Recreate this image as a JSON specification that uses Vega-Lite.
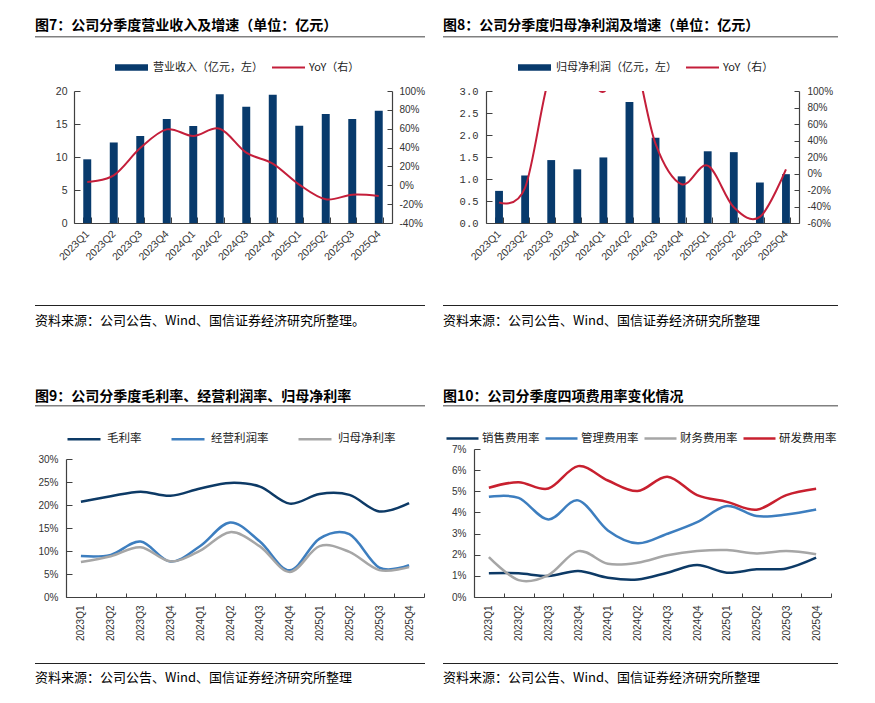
{
  "$schema": "https://vega.github.io/schema/vega-lite/v6.json",
  "background": "white",
  "padding": {"left": 35, "top": 18, "right": 5, "bottom": 5},
  "spacing": 61,
  "config": {
    "view": {"stroke": null},
    "axis": {"grid": false, "labelFont": "Liberation Sans", "labelFontSize": 10, "labelColor": "#333333", "domainColor": "#404040", "tickColor": "#404040", "domainWidth": 1.2, "tickWidth": 1},
    "legend": {"labelFont": "Noto Sans CJK SC", "labelFontSize": 11, "labelColor": "#222222"},
    "title": {"font": "Noto Sans CJK SC", "color": "#000000"}
  },
  "resolve": {"scale": {"color": "independent", "fill": "independent", "stroke": "independent"}},
  "vconcat": [
    {
      "hconcat": [
        {
          "vconcat": [
            {
              "width": 390, "height": 1.5,
              "data": {"values": [{"t": ""}]},
              "mark": {"type": "text"},
              "encoding": {"text": {"field": "t"}},
              "view": {"fill": "#808080", "stroke": null},
              "title": {"text": "图7：公司分季度营业收入及增速（单位：亿元）", "anchor": "start", "offset": -2, "fontSize": 14, "fontWeight": "bold"}
            },
            {
              "vconcat": [
                {
                  "hconcat": [
                    {"width": 1, "height": 1, "data": {"values": [{"t": ""}]}, "mark": {"type": "text"}, "encoding": {"text": {"field": "t"}}},
                    {
                      "width": 318, "height": 132,
                      "data": {"values": [
                        {"q": "2023Q1", "rev": 9.65, "yoy": 3.5},
                        {"q": "2023Q2", "rev": 12.2, "yoy": 10.6},
                        {"q": "2023Q3", "rev": 13.2, "yoy": 39.5},
                        {"q": "2023Q4", "rev": 15.75, "yoy": 59.3},
                        {"q": "2024Q1", "rev": 14.7, "yoy": 52.3},
                        {"q": "2024Q2", "rev": 19.5, "yoy": 60},
                        {"q": "2024Q3", "rev": 17.6, "yoy": 34.6},
                        {"q": "2024Q4", "rev": 19.45, "yoy": 23},
                        {"q": "2025Q1", "rev": 14.75, "yoy": 0.7},
                        {"q": "2025Q2", "rev": 16.5, "yoy": -14.9},
                        {"q": "2025Q3", "rev": 15.75, "yoy": -10},
                        {"q": "2025Q4", "rev": 17.0, "yoy": -11.4}
                      ]},
                      "layer": [
                        {
                          "mark": {"type": "bar"},
                          "encoding": {
                            "x": {"field": "q", "type": "ordinal", "title": null, "scale": {"paddingInner": 0.7, "paddingOuter": 0.35},
                                  "axis": {"labelAngle": -45, "labelAlign": "right", "labelBaseline": "middle", "tickBand": "extent", "tickSize": -6, "labelPadding": 15, "labelOverlap": false, "labelFontSize": 10.5}},
                            "y": {"field": "rev", "type": "quantitative", "scale": {"domain": [0, 20]},
                                  "axis": {"values": [0, 5, 10, 15, 20], "tickSize": -6, "labelPadding": 13, "labelFontSize": 10.5, "title": ".", "titleOpacity": 0, "titleX": -38, "titleY": 0, "titleAngle": 0, "titleAlign": "left", "titleBaseline": "top", "titleFontSize": 4}},
                            "fill": {"datum": "营业收入（亿元，左）", "scale": {"range": ["#083a6c"]},
                                     "legend": {"title": null, "orient": "none", "legendX": 40, "legendY": -41, "symbolType": "M-1,-0.2H1V0.2H-1Z", "symbolSize": 1089, "labelOffset": 4}}
                          }
                        },
                        {
                          "mark": {"type": "line", "interpolate": "cardinal", "strokeWidth": 2, "clip": true},
                          "encoding": {
                            "x": {"field": "q", "type": "ordinal"},
                            "y": {"field": "yoy", "type": "quantitative", "scale": {"domain": [-40, 100]},
                                  "axis": {"orient": "right", "values": [-40, -20, 0, 20, 40, 60, 80, 100], "labelExpr": "datum.value + '%'", "tickSize": -5, "labelPadding": 12, "title": null}},
                            "stroke": {"datum": "YoY（右）", "scale": {"range": ["#c41e3a"]},
                                       "legend": {"title": null, "orient": "none", "legendX": 197, "legendY": -41, "symbolType": "stroke", "symbolSize": 1089, "symbolStrokeWidth": 2, "labelOffset": 3}}
                          }
                        }
                      ],
                      "resolve": {"scale": {"y": "independent"}}
                    }
                  ],
                  "spacing": 0,
                  "resolve": {"scale": {"color": "independent", "fill": "independent", "stroke": "independent"}}
                },
                {
                  "width": 390, "height": 1,
                  "data": {"values": [{"t": ""}]},
                  "mark": {"type": "text"},
                  "encoding": {"text": {"field": "t"}},
                  "view": {"fill": "#222222", "stroke": null},
                  "title": {"text": "资料来源：公司公告、Wind、国信证券经济研究所整理。", "orient": "bottom", "anchor": "start", "offset": 4, "fontSize": 13, "fontWeight": "normal"}
                }
              ],
              "spacing": 36,
              "resolve": {"scale": {"color": "independent", "fill": "independent", "stroke": "independent"}}
            }
          ],
          "spacing": 8,
          "resolve": {"scale": {"color": "independent", "fill": "independent", "stroke": "independent"}}
        },
        {
          "vconcat": [
            {
              "width": 395, "height": 1.5,
              "data": {"values": [{"t": ""}]},
              "mark": {"type": "text"},
              "encoding": {"text": {"field": "t"}},
              "view": {"fill": "#808080", "stroke": null},
              "title": {"text": "图8：公司分季度归母净利润及增速（单位：亿元）", "anchor": "start", "offset": -2, "fontSize": 14, "fontWeight": "bold"}
            },
            {
              "vconcat": [
                {
                  "hconcat": [
                    {"width": 1, "height": 1, "data": {"values": [{"t": ""}]}, "mark": {"type": "text"}, "encoding": {"text": {"field": "t"}}},
                    {
                      "width": 313, "height": 132,
                      "data": {"values": [
                        {"q": "2023Q1", "np": 0.73, "yoy": -35},
                        {"q": "2023Q2", "np": 1.08, "yoy": -17},
                        {"q": "2023Q3", "np": 1.43, "yoy": 125},
                        {"q": "2023Q4", "np": 1.22, "yoy": 140},
                        {"q": "2024Q1", "np": 1.49, "yoy": 99},
                        {"q": "2024Q2", "np": 2.75, "yoy": 155},
                        {"q": "2024Q3", "np": 1.94, "yoy": 36},
                        {"q": "2024Q4", "np": 1.06, "yoy": -13},
                        {"q": "2025Q1", "np": 1.63, "yoy": 9.5},
                        {"q": "2025Q2", "np": 1.61, "yoy": -41},
                        {"q": "2025Q3", "np": 0.92, "yoy": -52.6},
                        {"q": "2025Q4", "np": 1.11, "yoy": 5}
                      ]},
                      "layer": [
                        {
                          "mark": {"type": "bar"},
                          "encoding": {
                            "x": {"field": "q", "type": "ordinal", "title": null, "scale": {"paddingInner": 0.7, "paddingOuter": 0.35},
                                  "axis": {"labelAngle": -45, "labelAlign": "right", "labelBaseline": "middle", "tickBand": "extent", "tickSize": -6, "labelPadding": 15, "labelOverlap": false, "labelFontSize": 10.5}},
                            "y": {"field": "np", "type": "quantitative", "scale": {"domain": [0, 3]},
                                  "axis": {"values": [0, 0.5, 1, 1.5, 2, 2.5, 3], "format": ".1f", "labelFont": "Liberation Mono", "labelFontSize": 10.5, "tickSize": -6, "labelPadding": 14, "title": ".", "titleOpacity": 0, "titleX": -42, "titleY": 0, "titleAngle": 0, "titleAlign": "left", "titleBaseline": "top", "titleFontSize": 4}},
                            "fill": {"datum": "归母净利润（亿元，左）", "scale": {"range": ["#083a6c"]},
                                     "legend": {"title": null, "orient": "none", "legendX": 31, "legendY": -41, "symbolType": "M-1,-0.2H1V0.2H-1Z", "symbolSize": 1089, "labelOffset": 4}}
                          }
                        },
                        {
                          "mark": {"type": "line", "interpolate": "cardinal", "strokeWidth": 2, "clip": true},
                          "encoding": {
                            "x": {"field": "q", "type": "ordinal"},
                            "y": {"field": "yoy", "type": "quantitative", "scale": {"domain": [-60, 100]},
                                  "axis": {"orient": "right", "values": [-60, -40, -20, 0, 20, 40, 60, 80, 100], "labelExpr": "datum.value + '%'", "tickSize": -5, "labelPadding": 13, "title": null}},
                            "stroke": {"datum": "YoY（右）", "scale": {"range": ["#c41e3a"]},
                                       "legend": {"title": null, "orient": "none", "legendX": 199, "legendY": -41, "symbolType": "stroke", "symbolSize": 1089, "symbolStrokeWidth": 2, "labelOffset": 3}}
                          }
                        }
                      ],
                      "resolve": {"scale": {"y": "independent"}}
                    }
                  ],
                  "spacing": 0,
                  "resolve": {"scale": {"color": "independent", "fill": "independent", "stroke": "independent"}}
                },
                {
                  "width": 395, "height": 1,
                  "data": {"values": [{"t": ""}]},
                  "mark": {"type": "text"},
                  "encoding": {"text": {"field": "t"}},
                  "view": {"fill": "#222222", "stroke": null},
                  "title": {"text": "资料来源：公司公告、Wind、国信证券经济研究所整理", "orient": "bottom", "anchor": "start", "offset": 4, "fontSize": 13, "fontWeight": "normal"}
                }
              ],
              "spacing": 36,
              "resolve": {"scale": {"color": "independent", "fill": "independent", "stroke": "independent"}}
            }
          ],
          "spacing": 8,
          "resolve": {"scale": {"color": "independent", "fill": "independent", "stroke": "independent"}}
        }
      ],
      "spacing": 18,
      "resolve": {"scale": {"color": "independent", "fill": "independent", "stroke": "independent"}}
    },
    {
      "hconcat": [
        {
          "vconcat": [
            {
              "width": 390, "height": 1.5,
              "data": {"values": [{"t": ""}]},
              "mark": {"type": "text"},
              "encoding": {"text": {"field": "t"}},
              "view": {"fill": "#808080", "stroke": null},
              "title": {"text": "图9：公司分季度毛利率、经营利润率、归母净利率", "anchor": "start", "offset": -4, "fontSize": 14, "fontWeight": "bold"}
            },
            {
              "vconcat": [
                {
                  "hconcat": [
                    {"width": 1, "height": 1, "data": {"values": [{"t": ""}]}, "mark": {"type": "text"}, "encoding": {"text": {"field": "t"}}},
                    {
                      "width": 358, "height": 138,
                      "data": {"values": [
                        {"q": "2023Q1", "s": "毛利率", "v": 20.7}, {"q": "2023Q1", "s": "经营利润率", "v": 8.9}, {"q": "2023Q1", "s": "归母净利率", "v": 7.6},
                        {"q": "2023Q2", "s": "毛利率", "v": 21.9}, {"q": "2023Q2", "s": "经营利润率", "v": 9.15}, {"q": "2023Q2", "s": "归母净利率", "v": 8.85},
                        {"q": "2023Q3", "s": "毛利率", "v": 22.9}, {"q": "2023Q3", "s": "经营利润率", "v": 12.05}, {"q": "2023Q3", "s": "归母净利率", "v": 10.8},
                        {"q": "2023Q4", "s": "毛利率", "v": 22.0}, {"q": "2023Q4", "s": "经营利润率", "v": 7.7}, {"q": "2023Q4", "s": "归母净利率", "v": 7.75},
                        {"q": "2024Q1", "s": "毛利率", "v": 23.6}, {"q": "2024Q1", "s": "经营利润率", "v": 11.1}, {"q": "2024Q1", "s": "归母净利率", "v": 10.1},
                        {"q": "2024Q2", "s": "毛利率", "v": 24.8}, {"q": "2024Q2", "s": "经营利润率", "v": 16.2}, {"q": "2024Q2", "s": "归母净利率", "v": 14.1},
                        {"q": "2024Q3", "s": "毛利率", "v": 24.0}, {"q": "2024Q3", "s": "经营利润率", "v": 12.05}, {"q": "2024Q3", "s": "归母净利率", "v": 11.0},
                        {"q": "2024Q4", "s": "毛利率", "v": 20.3}, {"q": "2024Q4", "s": "经营利润率", "v": 5.8}, {"q": "2024Q4", "s": "归母净利率", "v": 5.45},
                        {"q": "2025Q1", "s": "毛利率", "v": 22.4}, {"q": "2025Q1", "s": "经营利润率", "v": 12.7}, {"q": "2025Q1", "s": "归母净利率", "v": 11.05},
                        {"q": "2025Q2", "s": "毛利率", "v": 22.2}, {"q": "2025Q2", "s": "经营利润率", "v": 13.65}, {"q": "2025Q2", "s": "归母净利率", "v": 9.8},
                        {"q": "2025Q3", "s": "毛利率", "v": 18.6}, {"q": "2025Q3", "s": "经营利润率", "v": 6.4}, {"q": "2025Q3", "s": "归母净利率", "v": 5.85},
                        {"q": "2025Q4", "s": "毛利率", "v": 20.4}, {"q": "2025Q4", "s": "经营利润率", "v": 6.9}, {"q": "2025Q4", "s": "归母净利率", "v": 6.5}
                      ]},
                      "mark": {"type": "line", "interpolate": "cardinal", "strokeWidth": 2.5},
                      "encoding": {
                        "x": {"field": "q", "type": "ordinal", "title": null, "scale": {"type": "band", "paddingInner": 0, "paddingOuter": 0},
                              "axis": {"labelAngle": -90, "labelAlign": "right", "labelBaseline": "middle", "tickBand": "extent", "tickSize": -4, "labelPadding": 12, "labelOverlap": false}},
                        "y": {"field": "v", "type": "quantitative", "scale": {"domain": [0, 30]},
                              "axis": {"values": [0, 5, 10, 15, 20, 25, 30], "labelExpr": "datum.value + '%'", "tickSize": -6, "labelPadding": 14, "title": ".", "titleOpacity": 0, "titleX": -30, "titleY": 0, "titleAngle": 0, "titleAlign": "left", "titleBaseline": "top", "titleFontSize": 4}},
                        "color": {"field": "s", "type": "nominal", "scale": {"domain": ["毛利率", "经营利润率", "归母净利率"], "range": ["#0d3a66", "#3d7ebf", "#a6a6a6"]},
                                  "legend": {"title": null, "orient": "none", "direction": "horizontal", "legendX": 0, "legendY": -38, "symbolType": "stroke", "symbolSize": 1089, "symbolStrokeWidth": 2.5, "labelOffset": 5, "columnPadding": 24, "labelFontSize": 11.5}}
                      }
                    }
                  ],
                  "spacing": 0,
                  "resolve": {"scale": {"color": "independent", "fill": "independent", "stroke": "independent"}}
                },
                {
                  "width": 390, "height": 1,
                  "data": {"values": [{"t": ""}]},
                  "mark": {"type": "text"},
                  "encoding": {"text": {"field": "t"}},
                  "view": {"fill": "#222222", "stroke": null},
                  "title": {"text": "资料来源：公司公告、Wind、国信证券经济研究所整理", "orient": "bottom", "anchor": "start", "offset": 3, "fontSize": 13, "fontWeight": "normal"}
                }
              ],
              "spacing": 16,
              "resolve": {"scale": {"color": "independent", "fill": "independent", "stroke": "independent"}}
            }
          ],
          "spacing": 10,
          "resolve": {"scale": {"color": "independent", "fill": "independent", "stroke": "independent"}}
        },
        {
          "vconcat": [
            {
              "width": 395, "height": 1.5,
              "data": {"values": [{"t": ""}]},
              "mark": {"type": "text"},
              "encoding": {"text": {"field": "t"}},
              "view": {"fill": "#808080", "stroke": null},
              "title": {"text": "图10：公司分季度四项费用率变化情况", "anchor": "start", "offset": -4, "fontSize": 14, "fontWeight": "bold"}
            },
            {
              "vconcat": [
                {
                  "hconcat": [
                    {"width": 1, "height": 1, "data": {"values": [{"t": ""}]}, "mark": {"type": "text"}, "encoding": {"text": {"field": "t"}}},
                    {
                      "width": 357, "height": 148,
                      "data": {"values": [
                        {"q": "2023Q1", "s": "销售费用率", "v": 1.12}, {"q": "2023Q1", "s": "管理费用率", "v": 4.74}, {"q": "2023Q1", "s": "财务费用率", "v": 1.89}, {"q": "2023Q1", "s": "研发费用率", "v": 5.17},
                        {"q": "2023Q2", "s": "销售费用率", "v": 1.12}, {"q": "2023Q2", "s": "管理费用率", "v": 4.69}, {"q": "2023Q2", "s": "财务费用率", "v": 0.80}, {"q": "2023Q2", "s": "研发费用率", "v": 5.43},
                        {"q": "2023Q3", "s": "销售费用率", "v": 0.99}, {"q": "2023Q3", "s": "管理费用率", "v": 3.67}, {"q": "2023Q3", "s": "财务费用率", "v": 1.04}, {"q": "2023Q3", "s": "研发费用率", "v": 5.13},
                        {"q": "2023Q4", "s": "销售费用率", "v": 1.23}, {"q": "2023Q4", "s": "管理费用率", "v": 4.57}, {"q": "2023Q4", "s": "财务费用率", "v": 2.17}, {"q": "2023Q4", "s": "研发费用率", "v": 6.19},
                        {"q": "2024Q1", "s": "销售费用率", "v": 0.91}, {"q": "2024Q1", "s": "管理费用率", "v": 3.15}, {"q": "2024Q1", "s": "财务费用率", "v": 1.57}, {"q": "2024Q1", "s": "研发费用率", "v": 5.51},
                        {"q": "2024Q2", "s": "销售费用率", "v": 0.83}, {"q": "2024Q2", "s": "管理费用率", "v": 2.54}, {"q": "2024Q2", "s": "财务费用率", "v": 1.62}, {"q": "2024Q2", "s": "研发费用率", "v": 5.01},
                        {"q": "2024Q3", "s": "销售费用率", "v": 1.15}, {"q": "2024Q3", "s": "管理费用率", "v": 2.99}, {"q": "2024Q3", "s": "财务费用率", "v": 1.97}, {"q": "2024Q3", "s": "研发费用率", "v": 5.69},
                        {"q": "2024Q4", "s": "销售费用率", "v": 1.51}, {"q": "2024Q4", "s": "管理费用率", "v": 3.54}, {"q": "2024Q4", "s": "财务费用率", "v": 2.17}, {"q": "2024Q4", "s": "研发费用率", "v": 4.82},
                        {"q": "2025Q1", "s": "销售费用率", "v": 1.15}, {"q": "2025Q1", "s": "管理费用率", "v": 4.30}, {"q": "2025Q1", "s": "财务费用率", "v": 2.22}, {"q": "2025Q1", "s": "研发费用率", "v": 4.50},
                        {"q": "2025Q2", "s": "销售费用率", "v": 1.31}, {"q": "2025Q2", "s": "管理费用率", "v": 3.83}, {"q": "2025Q2", "s": "财务费用率", "v": 2.06}, {"q": "2025Q2", "s": "研发费用率", "v": 4.13},
                        {"q": "2025Q3", "s": "销售费用率", "v": 1.35}, {"q": "2025Q3", "s": "管理费用率", "v": 3.90}, {"q": "2025Q3", "s": "财务费用率", "v": 2.17}, {"q": "2025Q3", "s": "研发费用率", "v": 4.82},
                        {"q": "2025Q4", "s": "销售费用率", "v": 1.86}, {"q": "2025Q4", "s": "管理费用率", "v": 4.14}, {"q": "2025Q4", "s": "财务费用率", "v": 2.02}, {"q": "2025Q4", "s": "研发费用率", "v": 5.12}
                      ]},
                      "mark": {"type": "line", "interpolate": "cardinal", "strokeWidth": 2.5},
                      "encoding": {
                        "x": {"field": "q", "type": "ordinal", "title": null, "scale": {"type": "band", "paddingInner": 0, "paddingOuter": 0},
                              "axis": {"labelAngle": -90, "labelAlign": "right", "labelBaseline": "middle", "tickBand": "extent", "tickSize": -4, "labelPadding": 12, "labelOverlap": false}},
                        "y": {"field": "v", "type": "quantitative", "scale": {"domain": [0, 7]},
                              "axis": {"values": [0, 1, 2, 3, 4, 5, 6, 7], "labelExpr": "datum.value + '%'", "tickSize": -6, "labelPadding": 14, "title": ".", "titleOpacity": 0, "titleX": -30, "titleY": 0, "titleAngle": 0, "titleAlign": "left", "titleBaseline": "top", "titleFontSize": 4}},
                        "color": {"field": "s", "type": "nominal", "scale": {"domain": ["销售费用率", "管理费用率", "财务费用率", "研发费用率"], "range": ["#0d3a66", "#3d7ebf", "#a6a6a6", "#c8202f"]},
                                  "legend": {"title": null, "orient": "none", "direction": "horizontal", "legendX": -29, "legendY": -28, "symbolType": "stroke", "symbolSize": 1024, "symbolStrokeWidth": 2.5, "labelOffset": 2, "columnPadding": 0, "labelFontSize": 11.5}}
                      }
                    }
                  ],
                  "spacing": 0,
                  "resolve": {"scale": {"color": "independent", "fill": "independent", "stroke": "independent"}}
                },
                {
                  "width": 395, "height": 1,
                  "data": {"values": [{"t": ""}]},
                  "mark": {"type": "text"},
                  "encoding": {"text": {"field": "t"}},
                  "view": {"fill": "#222222", "stroke": null},
                  "title": {"text": "资料来源：公司公告、Wind、国信证券经济研究所整理", "orient": "bottom", "anchor": "start", "offset": 3, "fontSize": 13, "fontWeight": "normal"}
                }
              ],
              "spacing": 16,
              "resolve": {"scale": {"color": "independent", "fill": "independent", "stroke": "independent"}}
            }
          ],
          "spacing": 10,
          "resolve": {"scale": {"color": "independent", "fill": "independent", "stroke": "independent"}}
        }
      ],
      "spacing": 18,
      "resolve": {"scale": {"color": "independent", "fill": "independent", "stroke": "independent"}}
    }
  ]
}
